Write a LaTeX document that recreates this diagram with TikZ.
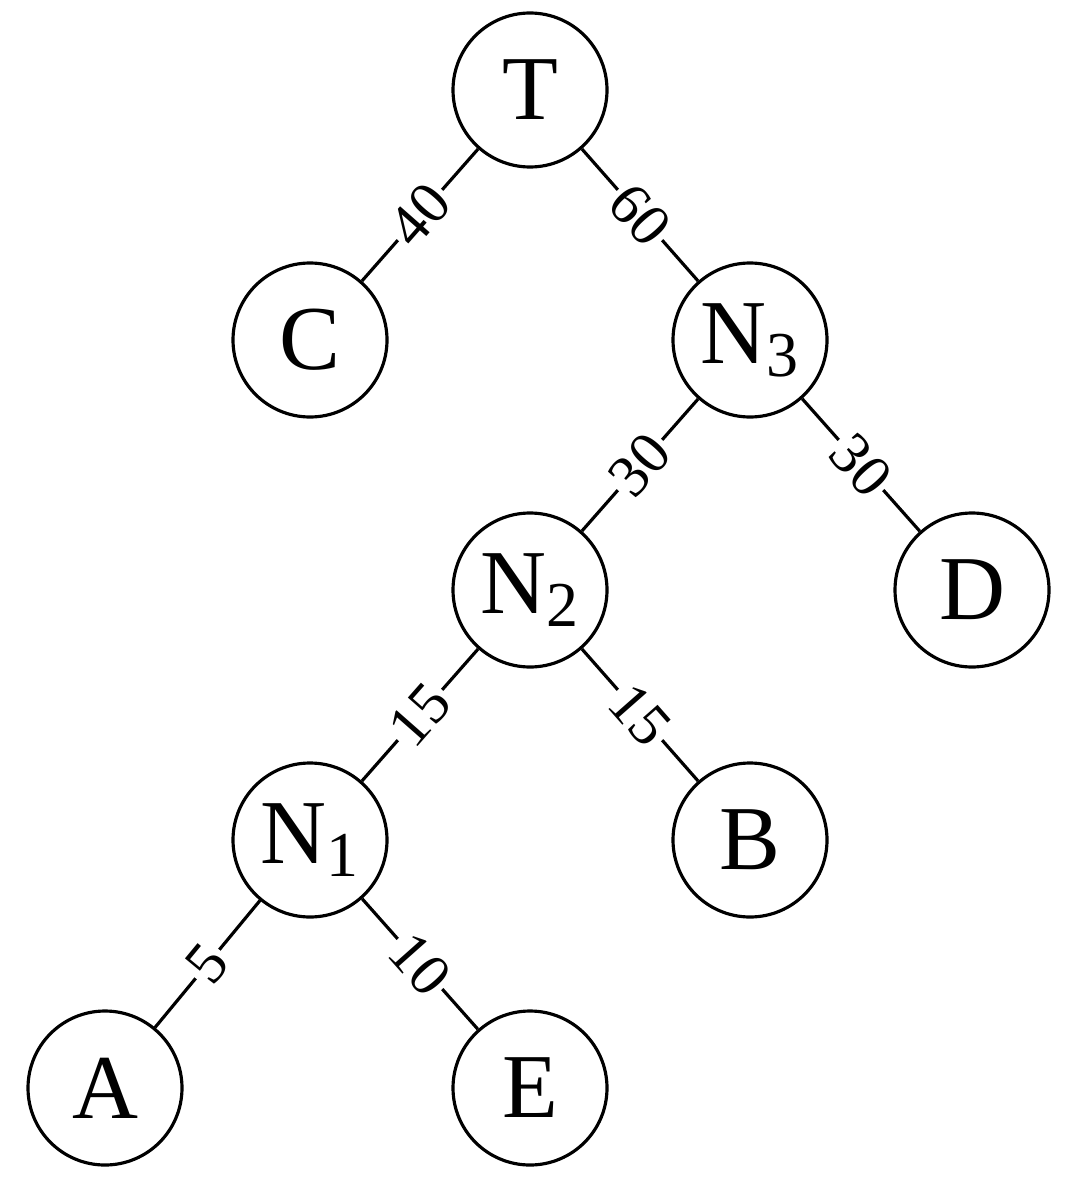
\documentclass[tikz,border=0pt]{standalone}
\usepackage{fontspec}
\setmainfont{Liberation Serif}
\usetikzlibrary{positioning}

\begin{document}
\begin{tikzpicture}[semithick,
    leaf/.style={circle,draw,line width=0.9pt,minimum size=1.54cm,inner sep=0pt,font=\fontsize{26}{26}\selectfont},
    wt/.style={sloped,fill=white,inner sep=1pt,font=\fontsize{17}{17}\selectfont}]
    \useasboundingbox (0,0) rectangle (10.78,-11.78);

    \node[leaf] (T) at (5.30,-0.90) {T};
    \node[leaf] (C) at (3.10,-3.40) {C}; \node[leaf] (N3) at (7.50,-3.40) {N\textsubscript{3}};
    \node[leaf] (N2) at (5.30,-5.90) {N\textsubscript{2}}; \node[leaf] (D) at (9.72,-5.90) {D};
    \node[leaf] (N1) at (3.10,-8.40) {N\textsubscript{1}}; \node[leaf] (B) at (7.50,-8.40) {B};
    \node[leaf] (A) at (1.05,-10.88) {A}; \node[leaf] (E) at (5.30,-10.88) {E};

    \path[line width=0.9pt] (T) edge node[wt] {40} (C) (T) edge node[wt] {60} (N3)
    (N3) edge node[wt] {30} (N2) (N3) edge node[wt] {30} (D)
    (N2) edge node[wt] {15} (N1) (N2) edge node[wt] {15} (B)
    (N1) edge node[wt] {5} (A) (N1) edge node[wt] {10} (E);

\end{tikzpicture}
\end{document}
